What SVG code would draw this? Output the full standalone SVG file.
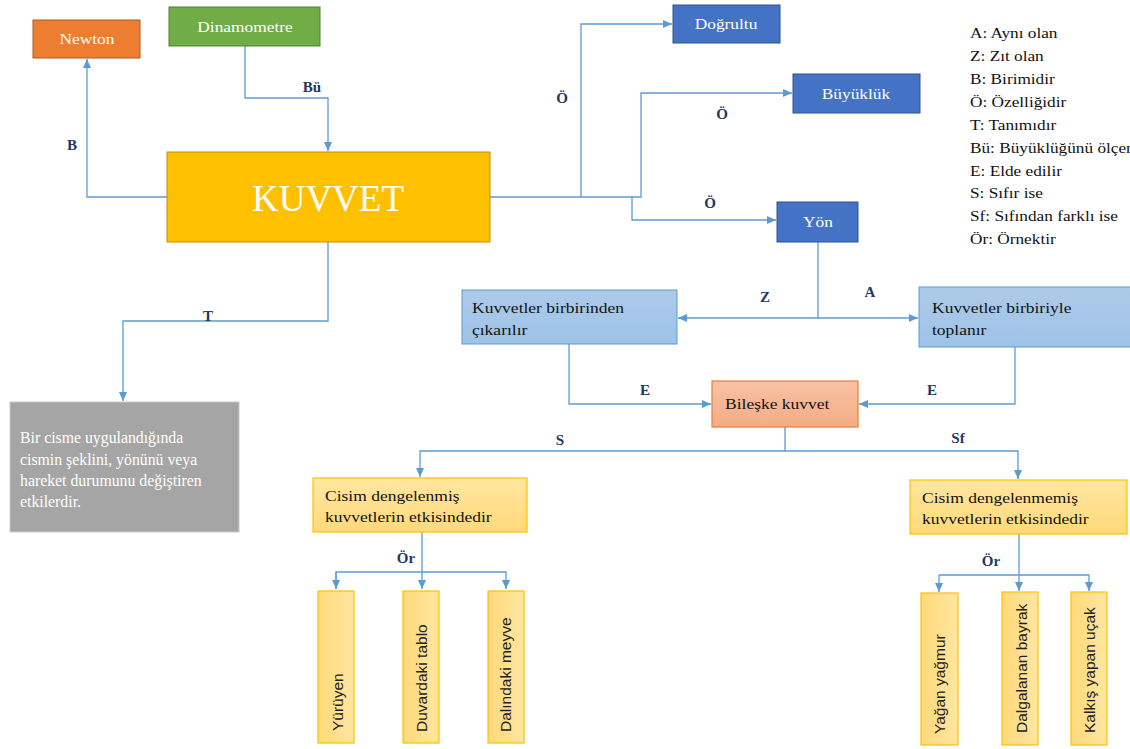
<svg xmlns="http://www.w3.org/2000/svg" width="1130" height="749" viewBox="0 0 1130 749" font-family="'Liberation Serif', 'Times New Roman', serif">
<defs>
<marker id="ah" markerUnits="userSpaceOnUse" markerWidth="10" markerHeight="10" refX="9" refY="5" orient="auto"><path d="M0,1 L9,5 L0,9 z" fill="#5B9BD5"/></marker>
<linearGradient id="gBlue" x1="0" y1="0" x2="0" y2="1"><stop offset="0" stop-color="#AECAEA"/><stop offset="1" stop-color="#9DC3E6"/></linearGradient>
<linearGradient id="gSal" x1="0" y1="0" x2="0" y2="1"><stop offset="0" stop-color="#F7C2A3"/><stop offset="1" stop-color="#F4AC84"/></linearGradient>
<linearGradient id="gYel" x1="0" y1="0" x2="0" y2="1"><stop offset="0" stop-color="#FFE6A0"/><stop offset="1" stop-color="#FFD97A"/></linearGradient>
<linearGradient id="gYelV" x1="0" y1="0" x2="1" y2="0"><stop offset="0" stop-color="#FFD97A"/><stop offset="1" stop-color="#FFE6A0"/></linearGradient>
</defs>
<style>
text{font-family:"Liberation Serif", serif;}
.conn{fill:none;stroke:#5B9BD5;stroke-width:1.3;}
.lbl{font-size:15px;font-weight:bold;fill:#1F3864;text-anchor:middle;}
.w{fill:#fff;font-size:15.5px;text-anchor:middle;}
.b{fill:#111;font-size:15.5px;}
.leg{fill:#111;font-size:15px;}
.vt{font-family:"Liberation Sans", Arial, sans-serif;fill:#222;font-size:15.5px;}
</style>
<rect width="1130" height="749" fill="#fff"/>

<g id="connectors">
<path class="conn" d="M167,197 H87 V59" marker-end="url(#ah)"/>
<path class="conn" d="M245,46 V98 H328 V151" marker-end="url(#ah)"/>
<path class="conn" d="M490,197 H641 V93 H792" marker-end="url(#ah)"/>
<path class="conn" d="M632,197 V220 H776" marker-end="url(#ah)"/>
<path class="conn" d="M581,197 V24 H672" marker-end="url(#ah)"/>
<path class="conn" d="M328,242 V321 H123 V401" marker-end="url(#ah)"/>
<path class="conn" d="M818,242 V318 H678" marker-end="url(#ah)"/>
<path class="conn" d="M818,318 H918" marker-end="url(#ah)"/>
<path class="conn" d="M569,344 V404 H711" marker-end="url(#ah)"/>
<path class="conn" d="M1015,347 V404 H859" marker-end="url(#ah)"/>
<path class="conn" d="M785,427 V451 H420 V477" marker-end="url(#ah)"/>
<path class="conn" d="M785,451 H1018 V479" marker-end="url(#ah)"/>
<path class="conn" d="M422,532 V589" marker-end="url(#ah)"/>
<path class="conn" d="M336,589 V572 H506 V589" marker-end="url(#ah)"/>
<path class="conn" d="M336,572 V589" marker-end="url(#ah)"/>
<path class="conn" d="M1019,534 V591" marker-end="url(#ah)"/>
<path class="conn" d="M939,575 H1089 V591" marker-end="url(#ah)"/>
<path class="conn" d="M939,575 V592" marker-end="url(#ah)"/>
<text class="lbl" x="72" y="150">B</text>
<text class="lbl" x="312" y="92">Bü</text>
<text class="lbl" x="562" y="103">Ö</text>
<text class="lbl" x="722" y="119">Ö</text>
<text class="lbl" x="710" y="208">Ö</text>
<text class="lbl" x="208" y="321">T</text>
<text class="lbl" x="765" y="302">Z</text>
<text class="lbl" x="870" y="297">A</text>
<text class="lbl" x="645" y="395">E</text>
<text class="lbl" x="932" y="395">E</text>
<text class="lbl" x="560" y="445">S</text>
<text class="lbl" x="958" y="443">Sf</text>
<text class="lbl" x="406" y="563">Ör</text>
<text class="lbl" x="991" y="566">Ör</text>
</g>

<g id="n-newton"><rect x="33" y="20" width="107" height="38" fill="#ED7D31" stroke="#AE5A21" stroke-width="1"/><text class="w" transform="translate(87,44) scale(1.12,1)">Newton</text></g>
<g id="n-dinamometre"><rect x="169" y="7" width="151" height="39" fill="#70AD47" stroke="#507E32" stroke-width="1"/><text class="w" transform="translate(245,32) scale(1.12,1)">Dinamometre</text></g>
<g id="n-kuvvet"><rect x="167" y="152" width="323" height="90" fill="#FFC000" stroke="#C09000" stroke-width="1"/><text x="328" y="211" fill="#fff" font-size="37" text-anchor="middle">KUVVET</text></g>
<g id="n-dogrultu"><rect x="673" y="5" width="107" height="38" fill="#4472C4" stroke="#2F528F" stroke-width="1"/><text class="w" transform="translate(726,29) scale(1.12,1)">Doğrultu</text></g>
<g id="n-buyukluk"><rect x="793" y="74" width="127" height="39" fill="#4472C4" stroke="#2F528F" stroke-width="1"/><text class="w" transform="translate(856,99) scale(1.12,1)">Büyüklük</text></g>
<g id="n-yon"><rect x="777" y="202" width="81" height="40" fill="#4472C4" stroke="#2F528F" stroke-width="1"/><text class="w" transform="translate(818,227) scale(1.12,1)">Yön</text></g>

<g id="n-tanim"><rect x="10" y="402" width="229" height="130" fill="#A5A5A5" stroke="#C8C8C8" stroke-width="1"/>
<text fill="#fff" font-size="15.8"><tspan x="20" y="443">Bir cisme uygulandığında</tspan><tspan x="20" y="465">cismin şeklini, yönünü veya</tspan><tspan x="20" y="486">hareket durumunu değiştiren</tspan><tspan x="20" y="507">etkilerdir.</tspan></text></g>

<g id="n-cikarilir"><rect x="462" y="290" width="215" height="54" fill="url(#gBlue)" stroke="#5B9BD5" stroke-width="1"/><text class="b" transform="translate(472,0) scale(1.13,1)"><tspan x="0" y="313">Kuvvetler birbirinden</tspan><tspan x="0" y="335">çıkarılır</tspan></text></g>
<g id="n-toplanir"><rect x="919" y="287" width="215" height="60" fill="url(#gBlue)" stroke="#5B9BD5" stroke-width="1"/><text class="b" transform="translate(932,0) scale(1.13,1)"><tspan x="0" y="313">Kuvvetler birbiriyle</tspan><tspan x="0" y="335">toplanır</tspan></text></g>
<g id="n-bileske"><rect x="712" y="381" width="146" height="46" fill="url(#gSal)" stroke="#ED7D31" stroke-width="1.2"/><text class="b" transform="translate(725,409) scale(1.13,1)">Bileşke kuvvet</text></g>

<g id="n-dengeli"><rect x="313" y="478" width="214" height="54" fill="url(#gYel)" stroke="#FFC000" stroke-width="1.2"/><text class="b" transform="translate(325,0) scale(1.13,1)"><tspan x="0" y="501">Cisim dengelenmiş</tspan><tspan x="0" y="522">kuvvetlerin etkisindedir</tspan></text></g>
<g id="n-dengesiz"><rect x="910" y="480" width="217" height="54" fill="url(#gYel)" stroke="#FFC000" stroke-width="1.2"/><text class="b" transform="translate(922,0) scale(1.13,1)"><tspan x="0" y="503">Cisim dengelenmemiş</tspan><tspan x="0" y="524">kuvvetlerin etkisindedir</tspan></text></g>

<g id="n-yuruyen"><rect x="318" y="591" width="36" height="152" fill="url(#gYelV)" stroke="#FFC000" stroke-width="1.2"/><text class="vt" transform="translate(343,731) rotate(-90)">Yürüyen</text></g>
<g id="n-tablo"><rect x="403" y="591" width="36" height="152" fill="url(#gYelV)" stroke="#FFC000" stroke-width="1.2"/><text class="vt" transform="translate(427,732) rotate(-90)">Duvardaki tablo</text></g>
<g id="n-meyve"><rect x="488" y="591" width="36" height="152" fill="url(#gYelV)" stroke="#FFC000" stroke-width="1.2"/><text class="vt" transform="translate(511,732) rotate(-90)">Dalındaki meyve</text></g>
<g id="n-yagmur"><rect x="921" y="593" width="37" height="152" fill="url(#gYelV)" stroke="#FFC000" stroke-width="1.2"/><text class="vt" transform="translate(945,734) rotate(-90)">Yağan yağmur</text></g>
<g id="n-bayrak"><rect x="1002" y="592" width="36" height="153" fill="url(#gYelV)" stroke="#FFC000" stroke-width="1.2"/><text class="vt" transform="translate(1027,733) rotate(-90)">Dalgalanan bayrak</text></g>
<g id="n-ucak"><rect x="1071" y="592" width="36" height="153" fill="url(#gYelV)" stroke="#FFC000" stroke-width="1.2"/><text class="vt" transform="translate(1095,733) rotate(-90)">Kalkış yapan uçak</text></g>

<g id="legend" transform="translate(970,0) scale(1.15,1)">
<text class="leg" x="0" y="38">A: Aynı olan</text>
<text class="leg" x="0" y="61">Z: Zıt olan</text>
<text class="leg" x="0" y="84">B: Birimidir</text>
<text class="leg" x="0" y="107">Ö: Özelliğidir</text>
<text class="leg" x="0" y="130">T: Tanımıdır</text>
<text class="leg" x="0" y="153">Bü: Büyüklüğünü ölçer</text>
<text class="leg" x="0" y="176">E: Elde edilir</text>
<text class="leg" x="0" y="198">S: Sıfır ise</text>
<text class="leg" x="0" y="221">Sf: Sıfından farklı ise</text>
<text class="leg" x="0" y="244">Ör: Örnektir</text>
</g>
</svg>
